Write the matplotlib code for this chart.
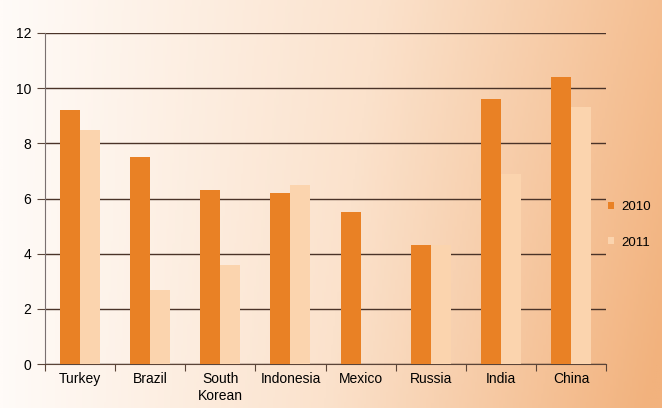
import numpy as np
import matplotlib
matplotlib.use("Agg")
import matplotlib.pyplot as plt
from matplotlib.colors import LinearSegmentedColormap

plt.rcParams['font.family'] = ['Liberation Sans', 'DejaVu Sans']

countries = ["Turkey", "Brazil", "South\nKorean", "Indonesia", "Mexico", "Russia", "India", "China"]
vals_2010 = [9.2, 7.5, 6.3, 6.2, 5.5, 4.3, 9.6, 10.4]
vals_2011 = [8.5, 2.7, 3.6, 6.5, 0.0, 4.3, 6.9, 9.3]

c2010 = "#e98125"
c2011 = "#fbd4ae"

fig = plt.figure(figsize=(6.62, 4.08), dpi=100)

# background gradient, white on the left to orange on the right
bg = fig.add_axes([0, 0, 1, 1], zorder=-10)
gx = np.linspace(0, 1, 300)
gy = np.linspace(0, 1, 200)
X, Y = np.meshgrid(gx, gy)
G = np.clip(0.85 * X + 0.15 * (1 - Y) * X + 0.02, 0, 1)
cmap = LinearSegmentedColormap.from_list("bg", ["#fffbf8", "#fbe2cc", "#f2b27d"])
bg.imshow(G, cmap=cmap, aspect="auto", extent=[0, 1, 0, 1], origin="lower")
bg.axis("off")

ax = fig.add_axes([45 / 662, 1 - 364 / 408, 561 / 662, 331 / 408])
ax.set_facecolor("none")

x = np.arange(len(countries))
w = 0.285
ax.bar(x - w / 2, vals_2010, w, color=c2010, label="2010", zorder=3)
ax.bar(x + w / 2, vals_2011, w, color=c2011, label="2011", zorder=3)

ax.set_xlim(-0.5, len(countries) - 0.5)
ax.set_ylim(0, 12)
ax.set_yticks(range(0, 13, 2))
ax.yaxis.grid(True, color="#4a3328", linewidth=1.0, zorder=1)
ax.set_axisbelow(True)

ax.set_xticks(np.arange(len(countries) + 1) - 0.5)
ax.set_xticklabels([])
ax.set_xticks(x, minor=True)
ax.set_xticklabels(countries, minor=True, fontsize=10)
ax.tick_params(axis="x", which="minor", length=0, pad=6)
ax.tick_params(axis="x", which="major", length=5, direction="out", color="#5a4438")
ax.tick_params(axis="y", length=6, color="#5a4438", labelsize=10, pad=4)

for s in ["top", "right"]:
    ax.spines[s].set_visible(False)
ax.spines["left"].set_color("#7a7070")
ax.spines["bottom"].set_color("#5a4438")

ax.legend(loc="center left", bbox_to_anchor=(1.003, 0.42), frameon=False,
          borderpad=0, borderaxespad=0,
          handlelength=0.45, handleheight=0.45, labelspacing=1.75, fontsize=9.5,
          handletextpad=0.6)

fig.savefig("out.png", dpi=100)
